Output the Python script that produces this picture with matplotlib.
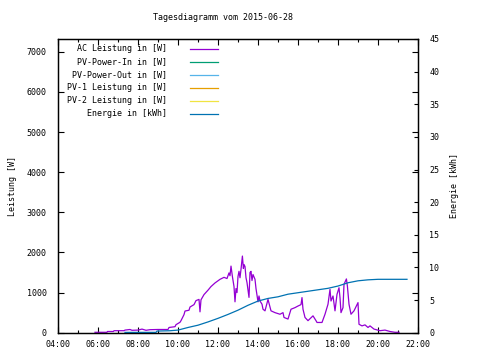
import numpy as np
import matplotlib
matplotlib.use('Agg')
import matplotlib.pyplot as plt
from matplotlib.lines import Line2D

plt.rcParams['font.family'] = ['DejaVu Sans Mono']
plt.rcParams['font.size'] = 6

# AC Leistung (Stunde, W)
ac_zeit = [5.85, 6.45, 6.47, 6.77, 6.8, 7.3, 7.35, 7.6, 7.7, 8.0, 8.2, 8.4, 8.6, 9.0, 9.5,
           9.55, 9.85, 9.9, 10.1, 10.15, 10.3, 10.35, 10.55, 10.6, 10.8, 10.9, 11.05, 11.1,
           11.15, 11.3, 11.5, 11.65, 11.85, 12.1, 12.3, 12.45, 12.55, 12.6, 12.65, 12.72,
           12.8, 12.85, 12.9, 12.95, 13.0, 13.05, 13.1, 13.15, 13.22, 13.27, 13.3, 13.35,
           13.4, 13.45, 13.55, 13.6, 13.65, 13.7, 13.75, 13.85, 13.9, 14.0, 14.05, 14.1,
           14.2, 14.25, 14.35, 14.5, 14.65, 14.85, 15.1, 15.25, 15.3, 15.5, 15.65, 15.85,
           16.0, 16.15, 16.2, 16.25, 16.35, 16.5, 16.75, 16.9, 16.95, 17.2, 17.35, 17.5,
           17.6, 17.65, 17.75, 17.85, 17.95, 18.05, 18.1, 18.15, 18.25, 18.3, 18.42, 18.47,
           18.55, 18.65, 18.8, 19.0, 19.05, 19.2, 19.35, 19.5, 19.6, 19.8, 20.1, 20.35,
           20.6, 20.85, 21.05]
ac_leistung = [10, 10, 30, 30, 50, 50, 65, 80, 60, 65, 90, 60, 75, 80, 80,
               130, 150, 200, 260, 300, 450, 540, 560, 640, 700, 800, 830, 520,
               820, 950, 1060, 1150, 1240, 1330, 1380, 1350, 1490, 1420, 1660, 1400,
               1150, 770, 1100, 1000, 1400, 1530, 1370, 1580, 1910, 1600, 1700, 1650,
               1370, 1250, 880, 1500, 1530, 1300, 1450, 1330, 1100, 770, 915, 790,
               710, 585, 545, 830, 545, 500, 460, 500, 380, 340, 585, 625,
               665, 700, 875, 585, 380, 300, 420, 300, 255, 255, 460, 710,
               1080, 790, 915, 545, 955, 1120, 875, 500, 625, 1205, 1340, 1160,
               710, 460, 545, 750, 210, 170, 195, 130, 170, 90, 50, 65,
               30, 10, 10]

# Energie (Stunde, kWh)
e_zeit = [7.35, 8.9, 8.95, 9.6, 10.0, 10.5, 11.0, 11.5, 12.0, 12.5, 13.0, 13.5, 14.0,
          14.5, 15.0, 15.5, 16.5, 17.5, 18.0, 18.5, 19.0, 19.5, 20.0, 21.45]
energie = [0.05, 0.05, 0.25, 0.3, 0.4, 0.8, 1.15, 1.65, 2.2, 2.8, 3.45, 4.2, 4.85,
           5.25, 5.5, 5.9, 6.35, 6.8, 7.15, 7.65, 7.95, 8.1, 8.18, 8.18]

legende = ['AC Leistung in [W]', 'PV-Power-In in [W]', 'PV-Power-Out in [W]',
           'PV-1 Leistung in [W]', 'PV-2 Leistung in [W]', 'Energie in [kWh]']
farben = ['#9400d3', '#009e73', '#56b4e9', '#e69f00', '#f0e442', '#0072b2']

fig = plt.figure(figsize=(4.8, 3.6), dpi=100)
ax = fig.add_axes([58/480, 1-332.7/360, 360/480, 293.7/360])
ax2 = ax.twinx()

ax.plot(ac_zeit, ac_leistung, color=farben[0], lw=0.9)
ax2.plot(e_zeit, energie, color=farben[5], lw=0.9)

ax.set_xlim(4, 22)
ax.set_ylim(0, 7320)
ax2.set_ylim(0, 45)

ax.set_xticks(range(4, 23, 2))
ax.set_xticklabels(['%02d:00' % h for h in range(4, 23, 2)])
ax.set_xticks(range(4, 23), minor=True)
ax.set_yticks(range(0, 7001, 1000))
ax2.set_yticks(range(0, 46, 5))

ax.tick_params(which='both', direction='in', top=True, right=True, width=0.8)
ax.tick_params(axis='y', which='major', length=4, pad=8)
ax.tick_params(axis='x', which='major', length=4, pad=5)
ax.tick_params(axis='x', which='minor', length=2.5)
ax2.tick_params(direction='in', length=3, width=0.8, pad=8)
for a in (ax, ax2):
    for s in a.spines.values():
        s.set_linewidth(0.9)

ax.set_ylabel('Leistung [W]', labelpad=7)
ax2.set_ylabel('Energie [kWh]', labelpad=8)
fig.text(223/480, 1-17.3/360, 'Tagesdiagramm vom 2015-06-28', ha='center', va='center')

# Legende wie bei gnuplot: Text rechtsbündig, Linie rechts davon
for i, (name, c) in enumerate(zip(legende, farben)):
    y = 1 - (49.3 + 13*i - 39) / 293.7
    ax.text((167-58)/360, y + 0.004, name, transform=ax.transAxes, ha='right', va='center')
    ax.add_line(Line2D([(190-58)/360, (218-58)/360], [y, y], transform=ax.transAxes,
                       color=c, lw=0.9))

fig.savefig('out.png', dpi=100)
